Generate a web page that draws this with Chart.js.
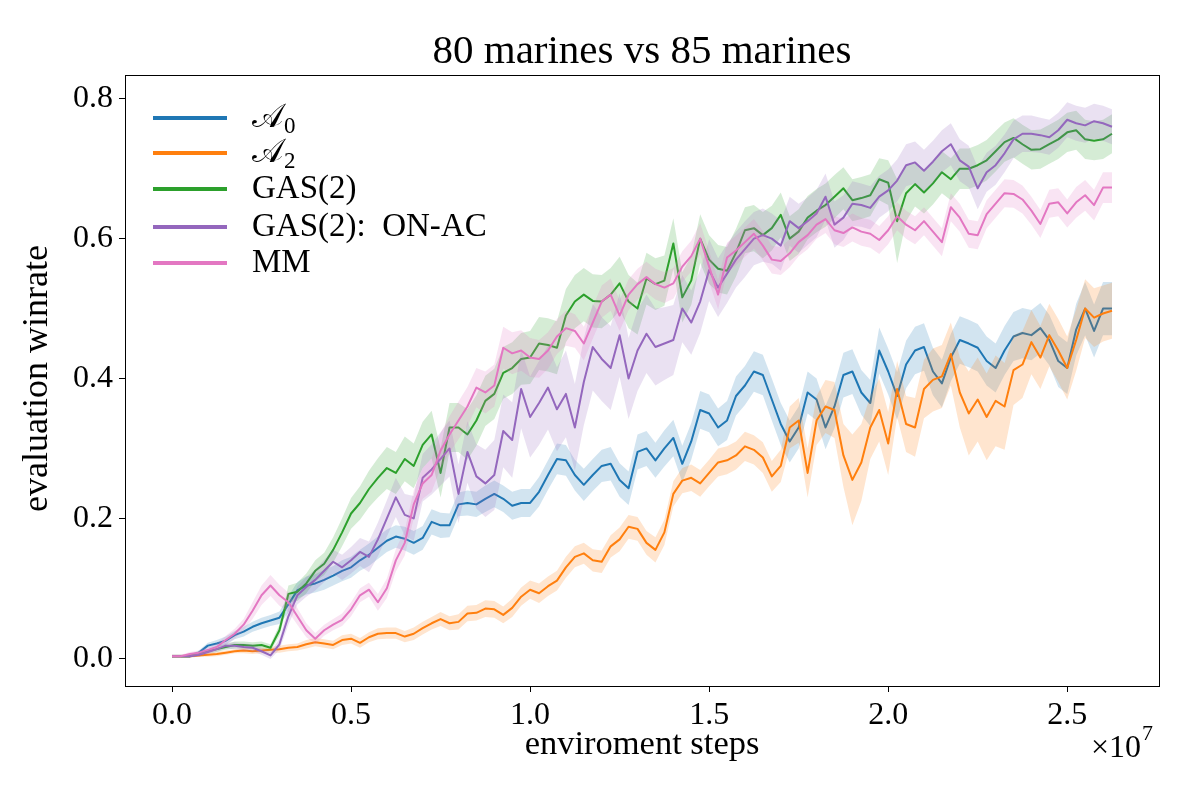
<!DOCTYPE html>
<html><head><meta charset="utf-8">
<style>html,body{margin:0;padding:0;background:#fff}#wrap{width:1200px;height:800px}</style>
<script src="https://cdn.jsdelivr.net/npm/chart.js@4.4.1/dist/chart.umd.min.js"></script>
</head><body><div id="wrap"><canvas id="c" width="1200" height="800"></canvas></div>
<script>
// x positions in units of 1e7 environment steps
const steps=[0,0.025,0.05,0.075,0.1,0.125,0.15,0.175,0.2,0.225,
0.25,0.275,0.3,0.325,0.35,0.375,0.4,0.425,0.45,0.475,
0.5,0.525,0.55,0.575,0.6,0.625,0.65,0.675,0.7,0.725,
0.75,0.775,0.8,0.825,0.85,0.875,0.9,0.925,0.95,0.975,
1.0,1.025,1.05,1.075,1.1,1.125,1.15,1.175,1.2,1.225,
1.25,1.275,1.3,1.325,1.35,1.375,1.4,1.425,1.45,1.475,
1.5,1.525,1.55,1.575,1.6,1.625,1.65,1.675,1.7,1.725,
1.75,1.775,1.8,1.825,1.85,1.875,1.9,1.925,1.95,1.975,
2.0,2.025,2.05,2.075,2.1,2.125,2.15,2.175,2.2,2.225,
2.25,2.275,2.3,2.325,2.35,2.375,2.4,2.425,2.45,2.475,
2.5,2.525,2.55,2.575,2.6,2.625];

const a0=[.003,.003,.003,.008,.018,.021,.025,.033,.038,.045,
.050,.054,.058,.077,.097,.104,.107,.112,.118,.125,
.130,.140,.148,.158,.168,.174,.171,.165,.172,.195,
.190,.190,.220,.222,.220,.228,.235,.228,.218,.222,
.222,.238,.262,.285,.283,.262,.248,.262,.275,.278,
.255,.243,.295,.300,.283,.300,.315,.278,.310,.355,
.350,.330,.340,.375,.390,.410,.405,.370,.335,.310,
.330,.380,.370,.330,.360,.405,.410,.380,.365,.440,
.410,.375,.420,.440,.445,.410,.393,.430,.455,.450,
.444,.425,.415,.440,.460,.465,.462,.472,.455,.425,
.415,.470,.500,.468,.500,.500];
const a0Band=[.002,.002,.002,.003,.004,.005,.006,.006,.007,.007,
.008,.008,.009,.012,.012,.013,.013,.014,.014,.015,
.015,.015,.016,.016,.016,.016,.017,.017,.017,.018,
.018,.017,.017,.018,.018,.019,.019,.019,.020,.020,
.020,.021,.021,.022,.022,.022,.023,.023,.023,.024,
.024,.024,.025,.025,.025,.026,.026,.026,.026,.027,
.027,.027,.028,.028,.028,.029,.029,.030,.030,.030,
.030,.030,.030,.031,.031,.032,.032,.032,.033,.033,
.033,.034,.034,.034,.034,.034,.034,.034,.034,.034,
.034,.035,.035,.035,.035,.036,.036,.036,.036,.037,
.037,.037,.038,.038,.038,.038];

const a2=[.003,.003,.003,.004,.005,.006,.008,.010,.011,.010,
.011,.012,.013,.015,.016,.020,.023,.021,.019,.026,
.028,.022,.030,.035,.036,.036,.031,.035,.043,.050,
.056,.050,.052,.064,.065,.071,.070,.062,.072,.088,
.098,.093,.103,.111,.130,.145,.150,.140,.138,.160,
.170,.188,.185,.165,.155,.180,.235,.254,.258,.250,
.265,.280,.283,.290,.303,.298,.287,.260,.275,.330,
.340,.265,.340,.360,.355,.290,.255,.280,.330,.355,
.307,.385,.335,.330,.385,.398,.403,.435,.380,.350,
.370,.345,.368,.360,.412,.420,.452,.430,.462,.440,
.415,.455,.500,.487,.493,.497];
const a2Band=[.002,.002,.002,.002,.003,.003,.003,.003,.004,.004,
.004,.004,.005,.005,.005,.006,.006,.006,.006,.007,
.007,.007,.007,.008,.008,.008,.008,.009,.009,.009,
.010,.010,.011,.011,.011,.012,.012,.012,.013,.013,
.013,.014,.014,.014,.015,.015,.015,.016,.016,.016,
.017,.017,.017,.017,.018,.018,.018,.018,.019,.019,
.019,.020,.020,.020,.021,.021,.022,.022,.023,.030,
.032,.035,.035,.038,.040,.045,.065,.055,.045,.045,
.045,.040,.040,.042,.042,.045,.045,.045,.050,.060,
.060,.062,.065,.062,.050,.048,.046,.045,.045,.045,
.045,.044,.042,.042,.040,.040];

const gas2=[.003,.003,.003,.007,.010,.013,.016,.019,.019,.018,
.019,.015,.040,.092,.095,.107,.125,.135,.155,.180,
.207,.222,.242,.258,.272,.265,.285,.275,.305,.320,
.265,.330,.330,.320,.340,.368,.378,.408,.415,.428,
.430,.450,.448,.444,.490,.510,.520,.511,.510,.520,
.536,.510,.500,.543,.535,.540,.593,.516,.540,.600,
.570,.557,.554,.580,.612,.615,.605,.615,.634,.600,
.610,.630,.640,.648,.660,.672,.655,.658,.662,.685,
.680,.625,.665,.678,.666,.679,.695,.685,.700,.700,
.705,.712,.725,.738,.744,.735,.727,.728,.735,.742,
.752,.755,.742,.740,.742,.750];
const gas2Band=[.002,.002,.002,.003,.003,.004,.004,.005,.005,.005,
.005,.005,.008,.012,.013,.014,.015,.016,.018,.020,
.022,.024,.026,.028,.030,.030,.032,.032,.033,.034,
.035,.035,.035,.036,.036,.036,.036,.037,.037,.037,
.038,.038,.038,.038,.038,.038,.038,.038,.038,.038,
.038,.038,.037,.037,.037,.036,.036,.036,.035,.035,
.035,.034,.034,.034,.033,.033,.033,.032,.032,.032,
.032,.031,.031,.031,.031,.030,.030,.030,.030,.030,
.032,.060,.040,.032,.030,.030,.030,.030,.029,.029,
.029,.029,.029,.028,.028,.028,.028,.028,.028,.028,
.028,.028,.028,.028,.028,.028];

const onac=[.003,.003,.003,.005,.009,.013,.018,.018,.016,.015,
.010,.004,.020,.060,.090,.102,.112,.125,.138,.130,
.140,.152,.145,.170,.200,.230,.205,.200,.258,.270,
.285,.300,.235,.295,.260,.250,.262,.325,.312,.385,
.345,.365,.387,.356,.378,.330,.395,.445,.428,.415,
.462,.400,.440,.464,.445,.450,.455,.500,.480,.510,
.555,.530,.550,.570,.585,.600,.605,.600,.590,.625,
.615,.625,.636,.660,.620,.630,.650,.648,.644,.660,
.669,.683,.705,.709,.697,.710,.725,.735,.712,.703,
.672,.695,.705,.722,.742,.750,.750,.748,.745,.755,
.770,.765,.762,.768,.765,.760];
const onacBand=[.002,.002,.002,.003,.003,.004,.004,.005,.005,.005,
.005,.005,.008,.012,.013,.014,.015,.016,.017,.018,
.019,.020,.022,.024,.026,.028,.030,.032,.034,.036,
.038,.040,.042,.044,.046,.048,.050,.052,.054,.056,
.058,.060,.060,.060,.062,.062,.062,.062,.060,.060,
.060,.058,.058,.056,.055,.052,.050,.048,.046,.045,
.044,.042,.042,.040,.040,.038,.038,.036,.036,.035,
.035,.034,.034,.033,.033,.032,.032,.031,.031,.030,
.030,.030,.030,.030,.030,.030,.030,.030,.030,.030,
.030,.028,.028,.027,.027,.026,.026,.025,.025,.025,
.025,.025,.025,.025,.025,.025];

const mm=[.003,.003,.006,.008,.012,.016,.026,.035,.048,.068,
.090,.104,.090,.080,.060,.040,.028,.040,.048,.055,
.070,.090,.098,.080,.100,.140,.165,.220,.250,.262,
.297,.320,.340,.360,.387,.380,.390,.444,.436,.440,
.430,.428,.440,.460,.472,.468,.450,.480,.510,.520,
.490,.520,.535,.545,.535,.530,.536,.560,.575,.600,
.560,.520,.573,.583,.595,.607,.590,.570,.568,.579,
.595,.605,.620,.628,.612,.608,.616,.610,.607,.598,
.612,.632,.620,.612,.625,.610,.595,.645,.630,.607,
.605,.635,.650,.665,.664,.656,.640,.621,.650,.652,
.636,.652,.662,.648,.673,.673];
const mmBand=[.002,.002,.003,.003,.004,.005,.006,.007,.008,.012,
.014,.015,.015,.014,.012,.010,.008,.008,.008,.009,
.010,.010,.010,.012,.014,.016,.018,.020,.022,.024,
.025,.026,.027,.028,.028,.030,.030,.030,.030,.029,
.028,.027,.026,.025,.025,.024,.024,.023,.023,.023,
.022,.022,.022,.022,.022,.022,.022,.022,.022,.022,
.022,.021,.021,.021,.021,.021,.021,.020,.020,.020,
.020,.020,.020,.020,.020,.020,.020,.020,.020,.020,
.020,.020,.020,.020,.020,.020,.020,.020,.020,.020,
.020,.020,.020,.020,.020,.020,.020,.020,.020,.020,
.020,.022,.022,.022,.022,.022];

const seriesLabels=['𝒜₀','𝒜₂','GAS(2)','GAS(2):  ON-AC','MM'];
const xTicks=[0,0.5,1.0,1.5,2.0,2.5];
const yTicks=[0,0.2,0.4,0.6,0.8];
const titleText='80 marines vs 85 marines';
const xLabel='enviroment steps';
const yLabel='evaluation winrate';

const FONT='"Liberation Serif","DejaVu Serif",serif';
const colors=['#1f77b4','#ff7f0e','#2ca02c','#9467bd','#e377c2'];
const rgbs=['31,119,180','255,127,14','44,160,44','148,103,189','227,119,194'];
const means=[a0,a2,gas2,onac,mm];
const bands=[a0Band,a2Band,gas2Band,onacBand,mmBand];

const datasets=[];let ord=1000;
means.forEach((m,k)=>{
  const w=bands[k];
  datasets.push({label:'_up'+k,data:steps.map((x,i)=>({x:x,y:m[i]+w[i]})),borderWidth:0,pointRadius:0,fill:false,order:ord--});
  datasets.push({label:'_lo'+k,data:steps.map((x,i)=>({x:x,y:m[i]-w[i]})),borderWidth:0,pointRadius:0,fill:'-1',backgroundColor:'rgba('+rgbs[k]+',0.2)',order:ord--});
  datasets.push({label:seriesLabels[k],data:steps.map((x,i)=>({x:x,y:m[i]})),borderColor:colors[k],borderWidth:2,pointRadius:0,fill:false,tension:0,borderJoinStyle:'round',order:ord--});
});

function hasGlyph(ctx,ch){
  ctx.font='40px '+FONT;
  const w1=ctx.measureText(ch).width, w2=ctx.measureText('\u{10FFFD}').width;
  return Math.abs(w1-w2)>0.5;
}

const decor={id:'decor',afterDraw(chart){
  const ctx=chart.ctx, ca=chart.chartArea;
  ctx.save();
  ctx.strokeStyle='#000';ctx.lineWidth=1;
  ctx.strokeRect(Math.round(ca.left)+0.5,Math.round(ca.top)+0.5,Math.round(ca.right-ca.left),Math.round(ca.bottom-ca.top));
  ctx.fillStyle='#000';
  ctx.textAlign='center';ctx.textBaseline='middle';
  ctx.font='41px '+FONT;
  ctx.fillText(titleText,(ca.left+ca.right)/2,52);
  ctx.font='34.5px '+FONT;
  ctx.fillText(xLabel,(ca.left+ca.right)/2,745);
  ctx.save();ctx.translate(38,(ca.top+ca.bottom)/2-2);ctx.rotate(-Math.PI/2);
  ctx.font='36px '+FONT;
  ctx.fillText(yLabel,0,0);ctx.restore();
  ctx.textAlign='left';ctx.textBaseline='alphabetic';
  ctx.font='32px '+FONT;
  const base='×10';
  const bw=ctx.measureText(base).width;
  const ox=1141-bw;
  ctx.fillText(base,ox,757);
  ctx.font='22px '+FONT;
  ctx.fillText('7',ox+bw+1,740);
  const scriptOK=hasGlyph(ctx,'𝒜');
  const ys=[118,153,189,227,263];
  for(let k=0;k<5;k++){
    ctx.strokeStyle=colors[k];ctx.lineWidth=4;ctx.lineCap='butt';
    ctx.beginPath();ctx.moveTo(153,ys[k]);ctx.lineTo(227,ys[k]);ctx.stroke();
    ctx.fillStyle='#000';ctx.textBaseline='middle';ctx.textAlign='left';
    const lab=seriesLabels[k];
    if(k<2){
      ctx.font=(scriptOK?'':'italic ')+'33px '+FONT;
      const A=scriptOK?'𝒜':'A';
      ctx.fillText(A,252,ys[k]);
      const aw=ctx.measureText(A).width;
      ctx.font='23px '+FONT;
      ctx.fillText(lab.slice(-1)==='₀'?'0':'2',252+aw+1,ys[k]+9);
    }else{
      ctx.font='33px '+FONT;
      ctx.fillText(lab,252,ys[k]);
    }
  }
  ctx.restore();
}};

new Chart(document.getElementById('c'),{
  type:'line',
  data:{datasets:datasets},
  options:{
    responsive:false,animation:false,devicePixelRatio:1,
    layout:{padding:{left:0,right:41,top:75,bottom:0}},
    plugins:{legend:{display:false},tooltip:{enabled:false},title:{display:false}},
    elements:{line:{tension:0}},
    scales:{
      x:{type:'linear',min:-0.1313,max:2.7563,
        afterBuildTicks:s=>{s.ticks=xTicks.map(v=>({value:v}));},
        afterFit:s=>{s.height=114;},
        ticks:{callback:v=>Number(v).toFixed(1),font:{family:FONT,size:32},color:'#000',padding:4,maxRotation:0,autoSkip:false},
        grid:{display:true,drawOnChartArea:false,drawTicks:true,tickLength:6,color:'#000',lineWidth:1},
        border:{display:true,color:'#000',width:1}},
      y:{type:'linear',min:-0.0397,max:0.834,
        afterBuildTicks:s=>{s.ticks=yTicks.map(v=>({value:v}));},
        afterFit:s=>{s.width=125;},
        ticks:{callback:v=>Number(v).toFixed(1),font:{family:FONT,size:32},color:'#000',padding:6,autoSkip:false},
        grid:{display:true,drawOnChartArea:false,drawTicks:true,tickLength:6,color:'#000',lineWidth:1},
        border:{display:true,color:'#000',width:1}}
    }
  },
  plugins:[decor]
});
</script></body></html>
